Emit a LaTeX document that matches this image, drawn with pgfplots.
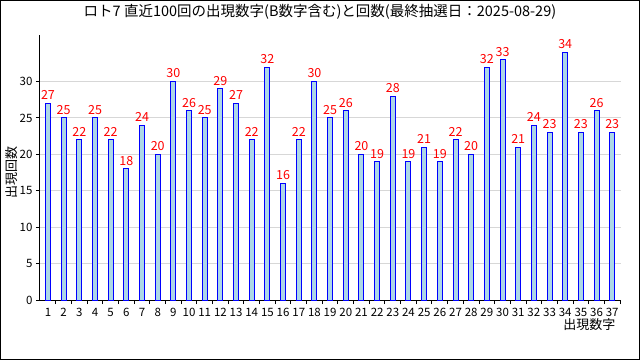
\documentclass[border=0pt]{standalone}
\usepackage{pgfplots}
\pgfplotsset{compat=1.18}
\usepackage{fontspec}
\setmainfont{Noto Sans CJK JP}
\definecolor{barfill}{RGB}{173,216,230}
\definecolor{gridgray}{RGB}{215,215,215}
\begin{document}
\begin{tikzpicture}
\useasboundingbox (-40pt,-60pt) rectangle (600pt,300pt);
\draw[line width=1pt] (-39.5pt,-59.5pt) rectangle (599.5pt,299.5pt);
\begin{axis}[
  at={(0pt,0pt)}, anchor=south west,
  scale only axis, width=580.7pt, height=265pt,
  xmin=0.49, xmax=37.54, ymin=0, ymax=36.4,
  enlargelimits=false, clip=false,
  axis x line*=bottom, axis y line*=left,
  axis line style={line width=1pt, black},
  ybar, bar width=5pt,
  xtick={1,...,37},
  minor xtick={1.5,2.5,...,37.5},
  major x tick style={draw=none},
  minor x tick style={black, line width=1pt},
  minor tick length=4pt,
  ytick={0,5,...,30},
  y tick style={black, line width=1pt},
  major tick length=4pt,
  tick align=outside,
  ymajorgrids, grid style={gridgray, line width=1pt},
  tick label style={font=\fontsize{11.5}{13}\selectfont},
  /pgf/number format/assume math mode=true,
  xticklabel style={yshift=-3pt, inner sep=1pt},
  nodes near coords,
  every node near coord/.append style={red, font=\fontsize{12.5}{14}\selectfont, inner sep=1pt, yshift=2pt},
]
\addplot[draw=blue, fill=barfill, line width=1pt] coordinates {
(1,27) (2,25) (3,22) (4,25) (5,22) (6,18) (7,24) (8,20) (9,30) (10,26)
(11,25) (12,29) (13,27) (14,22) (15,32) (16,16) (17,22) (18,30) (19,25) (20,26)
(21,20) (22,19) (23,28) (24,19) (25,21) (26,19) (27,22) (28,20) (29,32) (30,33)
(31,21) (32,24) (33,23) (34,34) (35,23) (36,26) (37,23)
};
\end{axis}
\node[font=\fontsize{14.5}{16}\selectfont] at (280pt,288pt) {ロト7 直近100回の出現数字(B数字含む)と回数(最終抽選日：2025-08-29)};
\node[rotate=90, font=\fontsize{13}{15}\selectfont] at (-28pt,128pt) {出現回数};
\node[anchor=east, font=\fontsize{13}{15}\selectfont] at (579pt,-25pt) {出現数字};
\end{tikzpicture}
\end{document}
